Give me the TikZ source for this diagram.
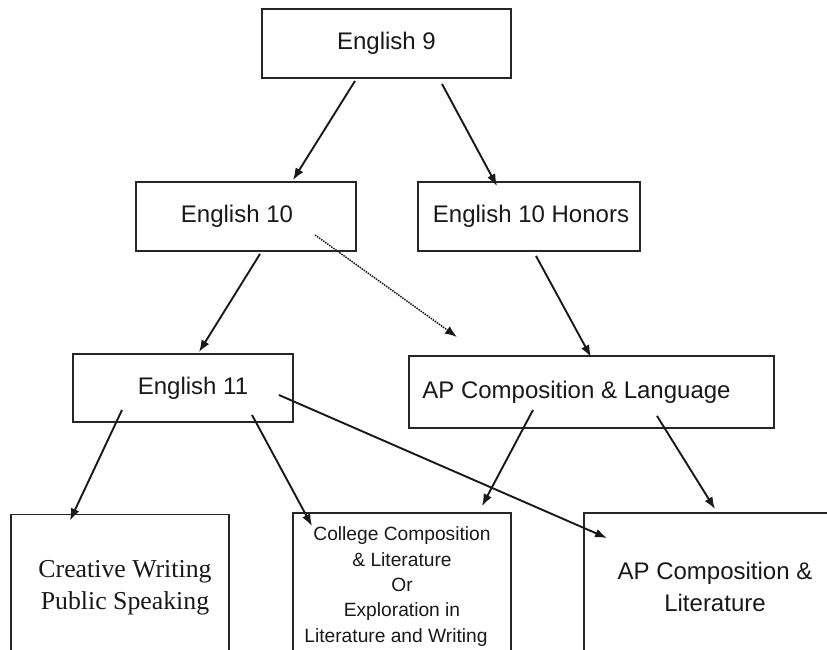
\documentclass[tikz,border=0pt]{standalone}
\usepackage{fontspec}
\setmainfont{Liberation Sans}
\newfontfamily\serifface{Liberation Serif}
\usetikzlibrary{arrows.meta,calc}
\begin{document}
\begin{tikzpicture}[x=1pt,y=-1pt,
  box/.style={draw=black!85,line width=1.9pt,rectangle,inner sep=0pt,align=center,text=black!90,font=\fontsize{24}{28}\selectfont},
  arr/.style={draw=black!90,line width=1.9pt,-{Latex[length=12pt,width=9pt]}},
  dotarr/.style={draw=black!90,line width=1.5pt,densely dotted,-{Latex[length=12pt,width=9pt]}}]
\useasboundingbox (0,0) rectangle (827,650);
\fill[white] (0,0) rectangle (827,650);
\clip (0,0) rectangle (827,650);
\node[box,minimum width=249pt,minimum height=69pt] (e9) at (386.5,43.5) {English 9};
\node[box,minimum width=220pt,minimum height=69pt] (e10) at (246,216.5) {English 10\hspace{18pt}};
\node[box,minimum width=222pt,minimum height=69pt] (e10h) at (529,216.5) {\hspace{4pt}English 10 Honors};
\node[box,minimum width=220pt,minimum height=68pt] (e11) at (183,388) {\hspace{20pt}\raisebox{1pt}{English 11}};
\node[box,minimum width=365pt,minimum height=72pt] (apl) at (591.5,392) {\raisebox{5pt}{AP Composition \& Language}\hspace{30pt}};
\node[box,minimum width=218pt,minimum height=147pt,font=\serifface\fontsize{25.8}{32}\selectfont] (cw) at (120,588) {\hspace{10pt}Creative Writing\\\hspace{10pt}Public Speaking};
\node[box,minimum width=218pt,minimum height=147pt,font=\fontsize{19.2}{25.3}\selectfont] (col) at (402,586.5) {College Composition\\ \& Literature\\ Or\\ Exploration in\\ Literature and Writing\hspace*{12pt}};
\node[box,minimum width=256pt,minimum height=147pt,font=\fontsize{24}{32}\selectfont] (apc) at (712,586.5) {\hspace{6pt}AP Composition \&\\ \hspace{6pt}Literature};
\coordinate (dotend) at (457,337);
\draw[arr] ($(e9.south)+(-31.5,2)$) -- ($(e10.north)+(47,-1)$);
\draw[arr] ($(e9.south)+(55.5,5)$) -- ($(e10h.north)+(-32,5)$);
\draw[arr] ($(e10.south)+(14,2)$) -- ($(e11.north)+(16,-1)$);
\draw[dotarr] ($(e10.center)+(69,18.5)$) -- (dotend);
\draw[arr] ($(e10h.south)+(7,4)$) -- ($(apl.north)+(-0.5,2)$);
\draw[arr] ($(e11.south)+(-61,-13)$) -- ($(cw.north)+(-50,7)$);
\draw[arr] ($(e11.south)+(69,-8)$) -- ($(col.north)+(-90,14)$);
\draw[arr] ($(e11.east)+(-15,7)$) -- ($(apc.north west)+(24,26)$);
\draw[arr] ($(apl.south)+(-58.5,-19)$) -- ($(col.north)+(80,-6)$);
\draw[arr] ($(apl.south)+(65.5,-13)$) -- ($(apc.north)+(3,-3)$);
\end{tikzpicture}
\end{document}
